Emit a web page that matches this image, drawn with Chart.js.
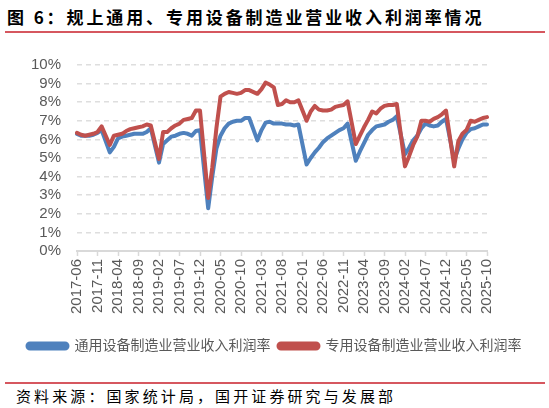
<!DOCTYPE html>
<html>
<head>
<meta charset="utf-8">
<script src="https://cdn.jsdelivr.net/npm/chart.js@4.4.1/dist/chart.umd.min.js"></script>
<style>
    body { margin: 0; background: #fff; }
    #page { position: relative; width: 549px; height: 408px; overflow: hidden; font-family: 'Noto Sans CJK SC', sans-serif; }
    #title { position: absolute; left: 7px; top: 4px; font-size: 17px; font-weight: bold; letter-spacing: 2.9px; color: #000; white-space: nowrap; }
    .rule { position: absolute; left: 5px; width: 540px; height: 2px; background: #d6575f; }
    #source { position: absolute; left: 16px; top: 385px; font-size: 15px; letter-spacing: 3.1px; color: #000; white-space: nowrap; }
    #chart-box { position: absolute; left: 0; top: 40px; width: 549px; height: 325px; }
</style>
</head>
<body>
<div id="page">
    <div id="title">图 6：规上通用、专用设备制造业营业收入利润率情况</div>
    <div class="rule" style="top: 31px;"></div>
    <div id="chart-box"><canvas id="profit-chart"></canvas></div>
    <div class="rule" style="top: 382px;"></div>
    <div id="source">资料来源：国家统计局，国开证券研究与发展部</div>
</div>
<script>
// 月份（2017-06 至 2025-10），1月无数据
const months = [
    '2017-06','2017-07','2017-08','2017-09','2017-10','2017-11','2017-12',
    '2018-01','2018-02','2018-03','2018-04','2018-05','2018-06','2018-07','2018-08','2018-09','2018-10','2018-11','2018-12',
    '2019-01','2019-02','2019-03','2019-04','2019-05','2019-06','2019-07','2019-08','2019-09','2019-10','2019-11','2019-12',
    '2020-01','2020-02','2020-03','2020-04','2020-05','2020-06','2020-07','2020-08','2020-09','2020-10','2020-11','2020-12',
    '2021-01','2021-02','2021-03','2021-04','2021-05','2021-06','2021-07','2021-08','2021-09','2021-10','2021-11','2021-12',
    '2022-01','2022-02','2022-03','2022-04','2022-05','2022-06','2022-07','2022-08','2022-09','2022-10','2022-11','2022-12',
    '2023-01','2023-02','2023-03','2023-04','2023-05','2023-06','2023-07','2023-08','2023-09','2023-10','2023-11','2023-12',
    '2024-01','2024-02','2024-03','2024-04','2024-05','2024-06','2024-07','2024-08','2024-09','2024-10','2024-11','2024-12',
    '2025-01','2025-02','2025-03','2025-04','2025-05','2025-06','2025-07','2025-08','2025-09','2025-10'
];

// 通用设备制造业营业收入利润率 (%)
const generalEquip = [
    6.3, 6.2, 6.2, 6.2, 6.25, 6.35, 6.5,
    null, 5.3, 5.6, 6.05, 6.15, 6.2, 6.25, 6.3, 6.3, 6.3, 6.4, 6.6,
    null, 4.75, 5.75, 5.95, 6.15, 6.2, 6.3, 6.35, 6.3, 6.2, 6.45, 6.5,
    null, 2.3, 4.0, 5.5, 6.2, 6.6, 6.85, 6.95, 7.0, 7.0, 7.15, 7.15,
    null, 5.95, 6.5, 6.9, 6.95, 6.85, 6.85, 6.85, 6.8, 6.8, 6.75, 6.8,
    null, 4.65, 5.0, 5.3, 5.55, 5.85, 6.05, 6.2, 6.35, 6.5, 6.6, 6.85,
    null, 4.85, 5.35, 5.8, 6.25, 6.5, 6.7, 6.75, 6.8, 6.95, 7.05, 7.25,
    null, 5.2, 5.55, 5.95, 6.2, 6.6, 6.85, 6.75, 6.7, 6.75, 6.95, 7.1,
    null, 4.9, 5.5, 6.0, 6.35, 6.55, 6.6, 6.7, 6.8, 6.8
];

// 专用设备制造业营业收入利润率 (%)
const specialEquip = [
    6.35, 6.25, 6.2, 6.25, 6.3, 6.4, 6.7,
    null, 5.7, 6.2, 6.25, 6.3, 6.45, 6.55, 6.6, 6.65, 6.7, 6.8, 6.75,
    null, 4.95, 6.4, 6.4, 6.6, 6.75, 6.85, 7.05, 7.1, 7.15, 7.55, 7.55,
    null, 2.85, 4.5, 6.6, 8.3, 8.45, 8.55, 8.5, 8.45, 8.5, 8.65, 8.65,
    null, 8.45, 8.7, 9.05, 8.95, 8.8, 7.85, 7.9, 8.1, 8.0, 8.0, 8.1,
    null, 7.0, 7.5, 7.8, 7.6, 7.55, 7.55, 7.6, 7.75, 7.8, 7.85, 8.05,
    null, 5.75, 6.2, 6.65, 7.05, 7.5, 7.4, 7.65, 7.8, 7.85, 7.85, 7.9,
    null, 4.55, 5.1, 5.7, 6.15, 7.0, 7.0, 6.95, 7.1, 7.2, 7.35, 7.55,
    null, 4.55, 5.9, 6.3, 6.5, 7.0, 6.95, 7.05, 7.15, 7.2
];

const seriesNames = ['通用设备制造业营业收入利润率', '专用设备制造业营业收入利润率'];
const yMin = 0;
const yMax = 10;
const yStep = 1;

const labelGap = 5;

Chart.defaults.font.family = "'Liberation Sans', 'Noto Sans CJK SC', sans-serif";
Chart.defaults.color = '#595959';

const ctx = document.getElementById('profit-chart').getContext('2d');
new Chart(ctx, {
    type: 'line',
    data: {
        labels: months,
        datasets: [
            {
                label: seriesNames[0],
                data: generalEquip,
                borderColor: '#4f81bd',
                backgroundColor: '#4f81bd',
                borderWidth: 4,
                pointRadius: 0,
                spanGaps: true,
                borderJoinStyle: 'round',
                borderCapStyle: 'round',
                order: 1
            },
            {
                label: seriesNames[1],
                data: specialEquip,
                borderColor: '#c0504d',
                backgroundColor: '#c0504d',
                borderWidth: 4,
                pointRadius: 0,
                spanGaps: true,
                borderJoinStyle: 'round',
                borderCapStyle: 'round',
                order: 0
            }
        ]
    },
    options: {
        responsive: true,
        maintainAspectRatio: false,
        animation: false,
        layout: { padding: { top: 22, right: 0, left: 0, bottom: 2 } },
        plugins: {
            legend: {
                position: 'bottom',
                labels: {
                    boxWidth: 40,
                    boxHeight: 5,
                    useBorderRadius: true,
                    borderRadius: 2.5,
                    padding: 8,
                    color: '#595959',
                    font: { size: 14 },
                    sort: (a, b) => a.datasetIndex - b.datasetIndex
                }
            },
            tooltip: { enabled: false }
        },
        scales: {
            x: {
                offset: false,
                afterFit: (s) => { s.height = 80; },
                grid: {
                    color: 'transparent',
                    tickLength: 5,
                    tickWidth: 1.5,
                    tickColor: (c) => (c.index % labelGap === 0 ? '#d9d9d9' : 'transparent')
                },
                border: { color: '#d9d9d9', width: 2 },
                ticks: {
                    autoSkip: false,
                    minRotation: 90,
                    maxRotation: 90,
                    padding: 3,
                    font: { size: 15 },
                    callback: function (v, i) { return i % labelGap === 0 ? months[i] : ''; }
                }
            },
            y: {
                min: yMin,
                max: yMax,
                afterFit: (s) => { s.width = 77; },
                grid: { color: '#dedede', lineWidth: 1.5, drawTicks: false },
                border: { display: false, dash: [5, 4] },
                ticks: {
                    stepSize: yStep,
                    autoSkip: false,
                    padding: 16,
                    font: { size: 15 },
                    callback: (v) => v + '%'
                }
            },
            // 右侧留白，保持图例在整幅宽度内单行排列
            spacer: {
                type: 'linear',
                position: 'right',
                display: true,
                afterFit: (s) => { s.width = 62; },
                grid: { display: false, drawTicks: false },
                border: { display: false },
                ticks: { display: false }
            }
        }
    }
});
</script>
</body>
</html>
